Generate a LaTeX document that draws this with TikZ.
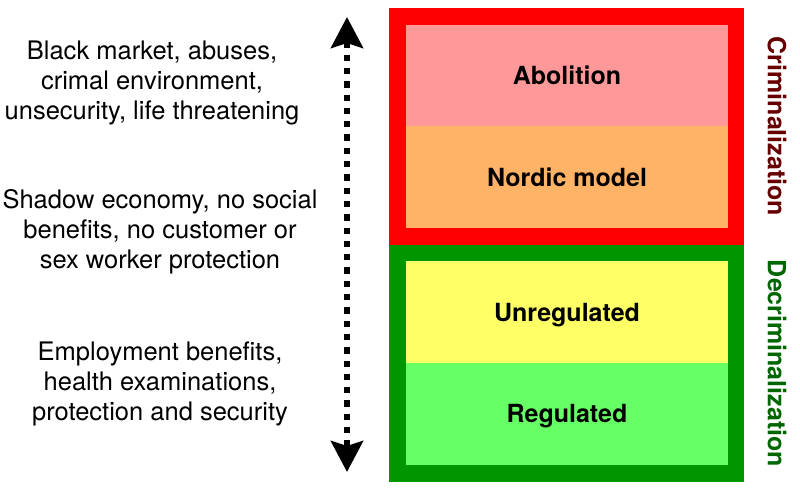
\documentclass[tikz,border=0pt]{standalone}
\usepackage{fontspec}
\setmainfont{TeX Gyre Heros}
\usetikzlibrary{arrows.meta}
\definecolor{critred}{HTML}{FF0000}
\definecolor{decgreen}{HTML}{009600}
\definecolor{abolpink}{HTML}{FF9999}
\definecolor{nordorange}{HTML}{FFB366}
\definecolor{unregyellow}{HTML}{FFFF66}
\definecolor{reglight}{HTML}{66FF66}
\definecolor{crimtext}{HTML}{660000}
\definecolor{dectext}{HTML}{006600}

\begin{document}
\begin{tikzpicture}[x=1pt, y=-1pt,
    zone/.style={rectangle, inner sep=0pt, minimum width=355pt, minimum height=237pt},
    model/.style={rectangle, inner sep=0pt, minimum width=322pt, minimum height=101.5pt,
      text height=18pt, text depth=0pt, font=\bfseries\fontsize{25}{30}\selectfont},
    effect/.style={align=center, inner sep=0pt, font=\fontsize{25.5}{30}\selectfont},
    side/.style={rotate=-90, inner sep=0pt, font=\bfseries\fontsize{25}{30}\selectfont}]
    \useasboundingbox (0,0) rectangle (800,494);

    % Outer frames
    \node[zone, fill=critred] (crim) at (566.5,126.5) {};
    \node[zone, fill=decgreen] (decrim) at (566.5,363.5) {};

    % Legal models
    \node[model, fill=abolpink] (abolition) at (567,75.75) {Abolition};
    \node[model, fill=nordorange] (nordic) at (567,177.25) {Nordic model};
    \node[model, fill=unregyellow] (unreg) at (567,312.25) {Unregulated};
    \node[model, fill=reglight] (reg) at (567,413.75) {Regulated};

    % Side labels
    \node[side, text=crimtext] (crimlabel) at (777,126.5) {Criminalization};
    \node[side, text=dectext] (declabel) at (777,363.5) {Decriminalization};

    % Consequences
    \node[effect] (worst) at (152,82.6) {Black market, abuses,\\crimal environment,\\unsecurity, life threatening};
    \node[effect] (middle) at (160,231.3) {Shadow economy, no social\\benefits, no customer or\\sex worker protection};
    \node[effect] (best) at (160,384.3) {Employment benefits,\\health examinations,\\protection and security};

    % Scale arrow
    \coordinate (top) at (347,17);
    \coordinate (bottom) at (347,472);
    \draw[line width=6pt, dash pattern=on 6.3pt off 7pt,
      {Stealth[length=31pt, width=32pt, inset=5pt]}-{Stealth[length=31pt, width=32pt, inset=5pt]}]
      (top) -- (bottom);
\end{tikzpicture}
\end{document}
